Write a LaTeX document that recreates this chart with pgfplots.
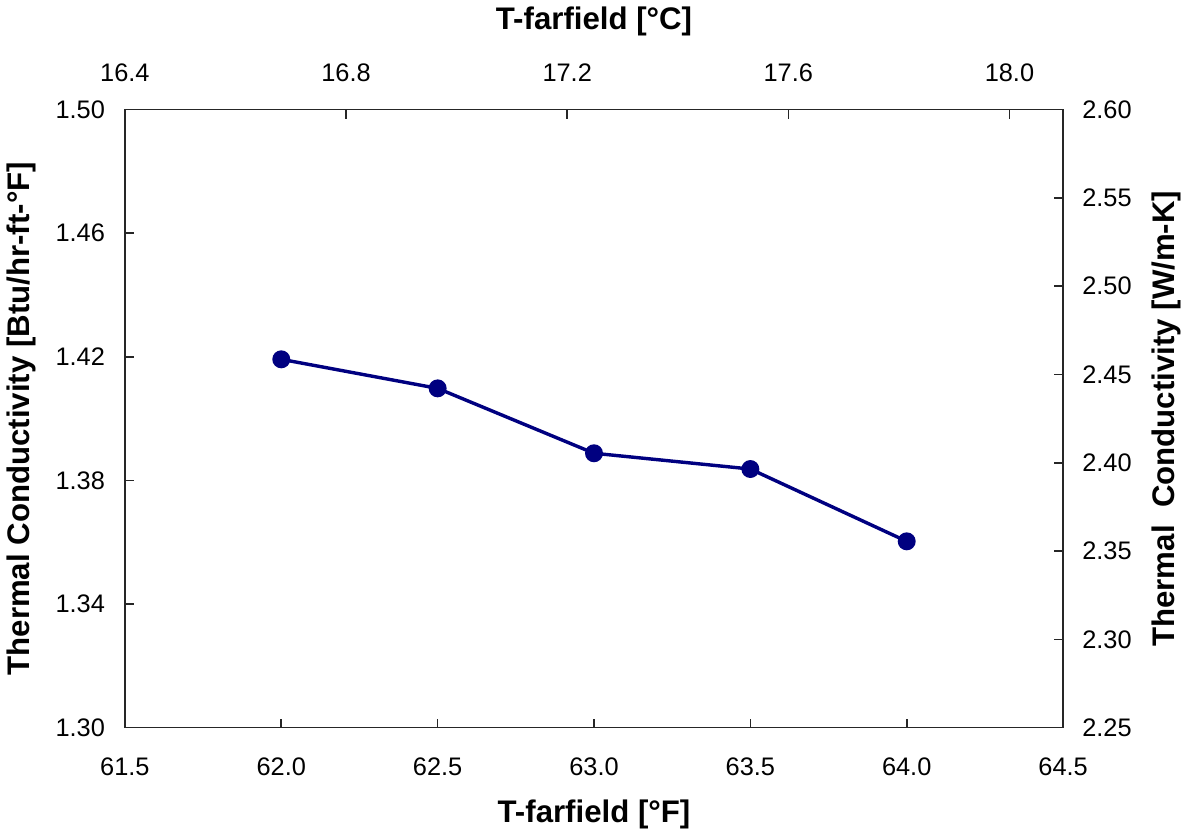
\documentclass[border=0pt]{standalone}
\usepackage{pgfplots}
\pgfplotsset{compat=1.18}
\usepackage{fontspec}
\setmainfont{Liberation Sans}
\definecolor{navy}{RGB}{0,0,128}
\begin{document}
\begin{tikzpicture}
\pgfplotsset{
  common/.style={
    scale only axis, width=466pt, height=307pt,
    at={(0,0)}, anchor=south west,
    tick align=inside, major tick length=4.5pt,
    axis line style={line width=0.8pt, black!85},
    every tick/.style={line width=0.8pt, black!85},
    ticklabel style={font=\fontsize{12.6}{14}\selectfont},
    /pgf/number format/assume math mode=true,
    label style={font=\fontsize{15.5}{18}\selectfont\bfseries},
  }
}
\begin{axis}[common,
  xmin=61.5, xmax=64.5, ymin=1.30, ymax=1.50,
  xtick={61.5,62.0,...,64.5}, ytick={1.30,1.34,...,1.50},
  xtick pos=bottom, ytick pos=left,
  x tick label style={/pgf/number format/.cd, fixed, fixed zerofill, precision=1},
  y tick label style={/pgf/number format/.cd, fixed, fixed zerofill, precision=2},
  xticklabel shift=11.5pt, yticklabel shift=6.4pt,
  xlabel={T-farfield [°F]},
  ylabel={Thermal Conductivity [Btu/hr-ft-°F]},
  xlabel style={at={(rel axis cs:0.5,-0.140)}, anchor=center},
  ylabel style={at={(rel axis cs:-0.1105,0.5)}, anchor=center, rotate=0},
]
\addplot[navy, line width=1.7pt, mark=*, mark size=3.6pt, mark options={solid, fill=navy, draw=navy}]
coordinates {(62.0,1.4192) (62.5,1.4098) (63.0,1.3888) (63.5,1.3837) (64.0,1.3603)};
\end{axis}
\begin{axis}[common,
  xmin=16.4, xmax=18.097, ymin=2.25, ymax=2.60,
  xtick={16.4,16.8,...,18.0}, ytick={2.25,2.30,...,2.60},
  xtick pos=top, ytick pos=right,
  xticklabel pos=top, yticklabel pos=right,
  x tick label style={/pgf/number format/.cd, fixed, fixed zerofill, precision=1},
  y tick label style={/pgf/number format/.cd, fixed, fixed zerofill, precision=2},
  xticklabel shift=10.5pt, yticklabel shift=6pt,
  xlabel={T-farfield [°C]},
  ylabel={Thermal\ \ Conductivity [W/m-K]},
  xlabel style={at={(rel axis cs:0.5,1.143)}, anchor=center},
  ylabel style={at={(rel axis cs:1.1105,0.5)}, anchor=center, rotate=0},
]
\addplot[draw=none] coordinates {(17,2.4)};
\end{axis}
\end{tikzpicture}
\end{document}
